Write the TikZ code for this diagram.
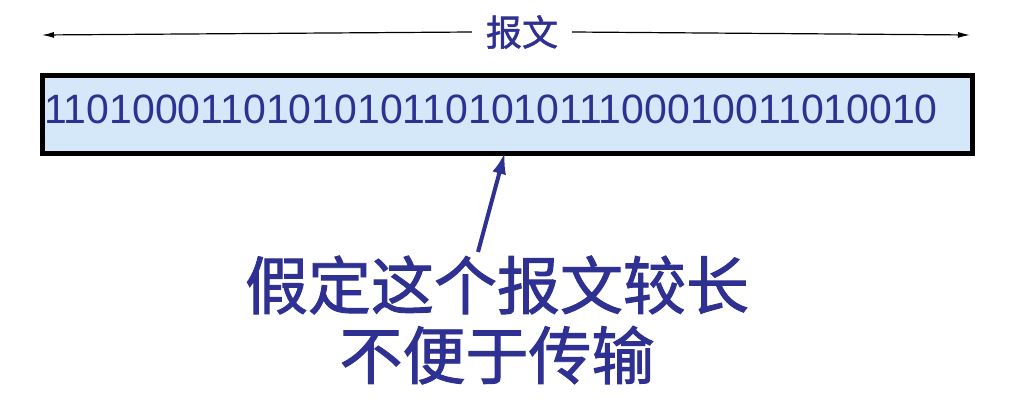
\documentclass[tikz,border=0pt]{standalone}
\usepackage{fontspec}
\setmainfont{Liberation Sans}
\newfontfamily\cjk{Noto Sans CJK SC}
\newfontfamily\cjkm[FakeBold=1.5]{Noto Sans CJK SC}
\usetikzlibrary{arrows.meta}
\definecolor{dblue}{HTML}{2E3192}
\definecolor{lblue}{HTML}{D5E8FA}
\begin{document}
\begin{tikzpicture}[x=1pt,y=-1pt,
  lbl/.style={font=\cjkm\fontsize{36}{40}\selectfont,text=dblue,inner sep=2pt}]
\useasboundingbox (0,0) rectangle (1018,414);
\node[lbl,fill=white,inner xsep=14pt] (t) at (522,32) {报文};
\coordinate (l) at (42,35);
\coordinate (r) at (970,35);
\draw[-{Latex[length=12pt,width=6pt]},line width=1.2pt] (t.west) -- (l);
\draw[-{Latex[length=12pt,width=6pt]},line width=1.2pt] (t.east) -- (r);
\node[draw=black,line width=5pt,fill=lblue,minimum width=930pt,minimum height=78pt,anchor=north west,inner sep=0pt] (box) at (40,73) {};
\node[anchor=west,text=dblue,font=\fontsize{41}{44}\selectfont,inner sep=0pt] (bits) at (44,109) {1101000110101010110101011100010011010010};
\node[lbl,font=\cjkm\fontsize{63}{70}\selectfont,align=center,inner sep=0pt] (msg) at (497,320) {假定这个报文较长\\不便于传输};
\coordinate (tip) at (505,152);
\coordinate (tail) at (478,252);
\draw[-{Latex[length=22pt,width=14pt]},line width=4pt,dblue] (tail) -- (tip);
\end{tikzpicture}
\end{document}
